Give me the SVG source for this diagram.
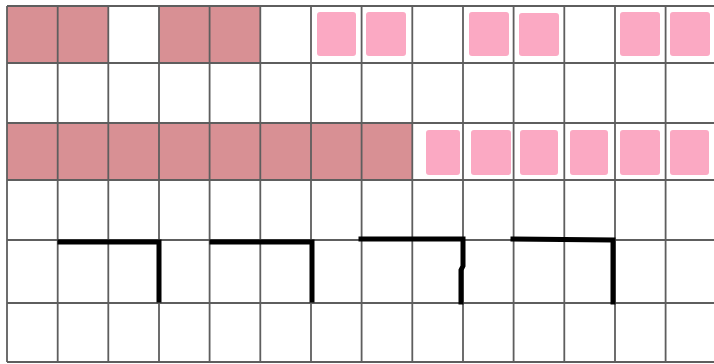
<svg xmlns="http://www.w3.org/2000/svg" width="714" height="364" viewBox="0 0 714 364">
<style>
.dark{fill:#d89094}
.light{fill:#fba9c3}
.grid line{stroke:#5e5e5e;stroke-width:1.8}
.mark{fill:none;stroke:#000;stroke-width:5;stroke-linecap:square;stroke-linejoin:miter}
</style>
<rect width="714" height="364" fill="#fff"/>
<g id="dark-fills">
<rect class="dark" x="7" y="6" width="101.3" height="57"/>
<rect class="dark" x="159" y="6" width="101.3" height="57"/>
<rect class="dark" x="7" y="123" width="405.3" height="57"/>
</g>
<g id="light-squares">
<rect class="light" x="317" y="12" width="39" height="44" rx="3"/>
<rect class="light" x="366" y="12" width="40" height="44" rx="3"/>
<rect class="light" x="469" y="12" width="40" height="44" rx="3"/>
<rect class="light" x="519" y="13" width="40" height="43" rx="3"/>
<rect class="light" x="620" y="12" width="40" height="44" rx="3"/>
<rect class="light" x="670" y="12" width="40" height="44" rx="3"/>
<rect class="light" x="426" y="130" width="34" height="45" rx="3"/>
<rect class="light" x="471" y="130" width="40" height="45" rx="3"/>
<rect class="light" x="520" y="130" width="38" height="45" rx="3"/>
<rect class="light" x="570" y="130" width="38" height="45" rx="3"/>
<rect class="light" x="620" y="130" width="40" height="45" rx="3"/>
<rect class="light" x="670" y="130" width="39" height="45" rx="3"/>
</g>
<g id="grid" class="grid">
<line x1="7" y1="6" x2="714" y2="6"/>
<line x1="7" y1="63" x2="714" y2="63"/>
<line x1="7" y1="123" x2="714" y2="123"/>
<line x1="7" y1="180" x2="714" y2="180"/>
<line x1="7" y1="240" x2="714" y2="240"/>
<line x1="7" y1="303" x2="714" y2="303"/>
<line x1="7" y1="362" x2="714" y2="362"/>
<line x1="7" y1="6" x2="7" y2="362"/>
<line x1="57.7" y1="6" x2="57.7" y2="362"/>
<line x1="108.3" y1="6" x2="108.3" y2="362"/>
<line x1="159" y1="6" x2="159" y2="362"/>
<line x1="209.6" y1="6" x2="209.6" y2="362"/>
<line x1="260.3" y1="6" x2="260.3" y2="362"/>
<line x1="311" y1="6" x2="311" y2="362"/>
<line x1="361.6" y1="6" x2="361.6" y2="362"/>
<line x1="412.3" y1="6" x2="412.3" y2="362"/>
<line x1="463" y1="6" x2="463" y2="362"/>
<line x1="513.6" y1="6" x2="513.6" y2="362"/>
<line x1="564.3" y1="6" x2="564.3" y2="362"/>
<line x1="615" y1="6" x2="615" y2="362"/>
<line x1="665.6" y1="6" x2="665.6" y2="362"/>
</g>
<g id="marks">
<polyline class="mark" points="60,242 159,242 159,300"/>
<polyline class="mark" points="212,242 312,242 312,300"/>
<polyline class="mark" points="361,239 463,239 463,266 461,270 461,302"/>
<polyline class="mark" points="513,239 613,240 613,302"/>
</g>
</svg>
